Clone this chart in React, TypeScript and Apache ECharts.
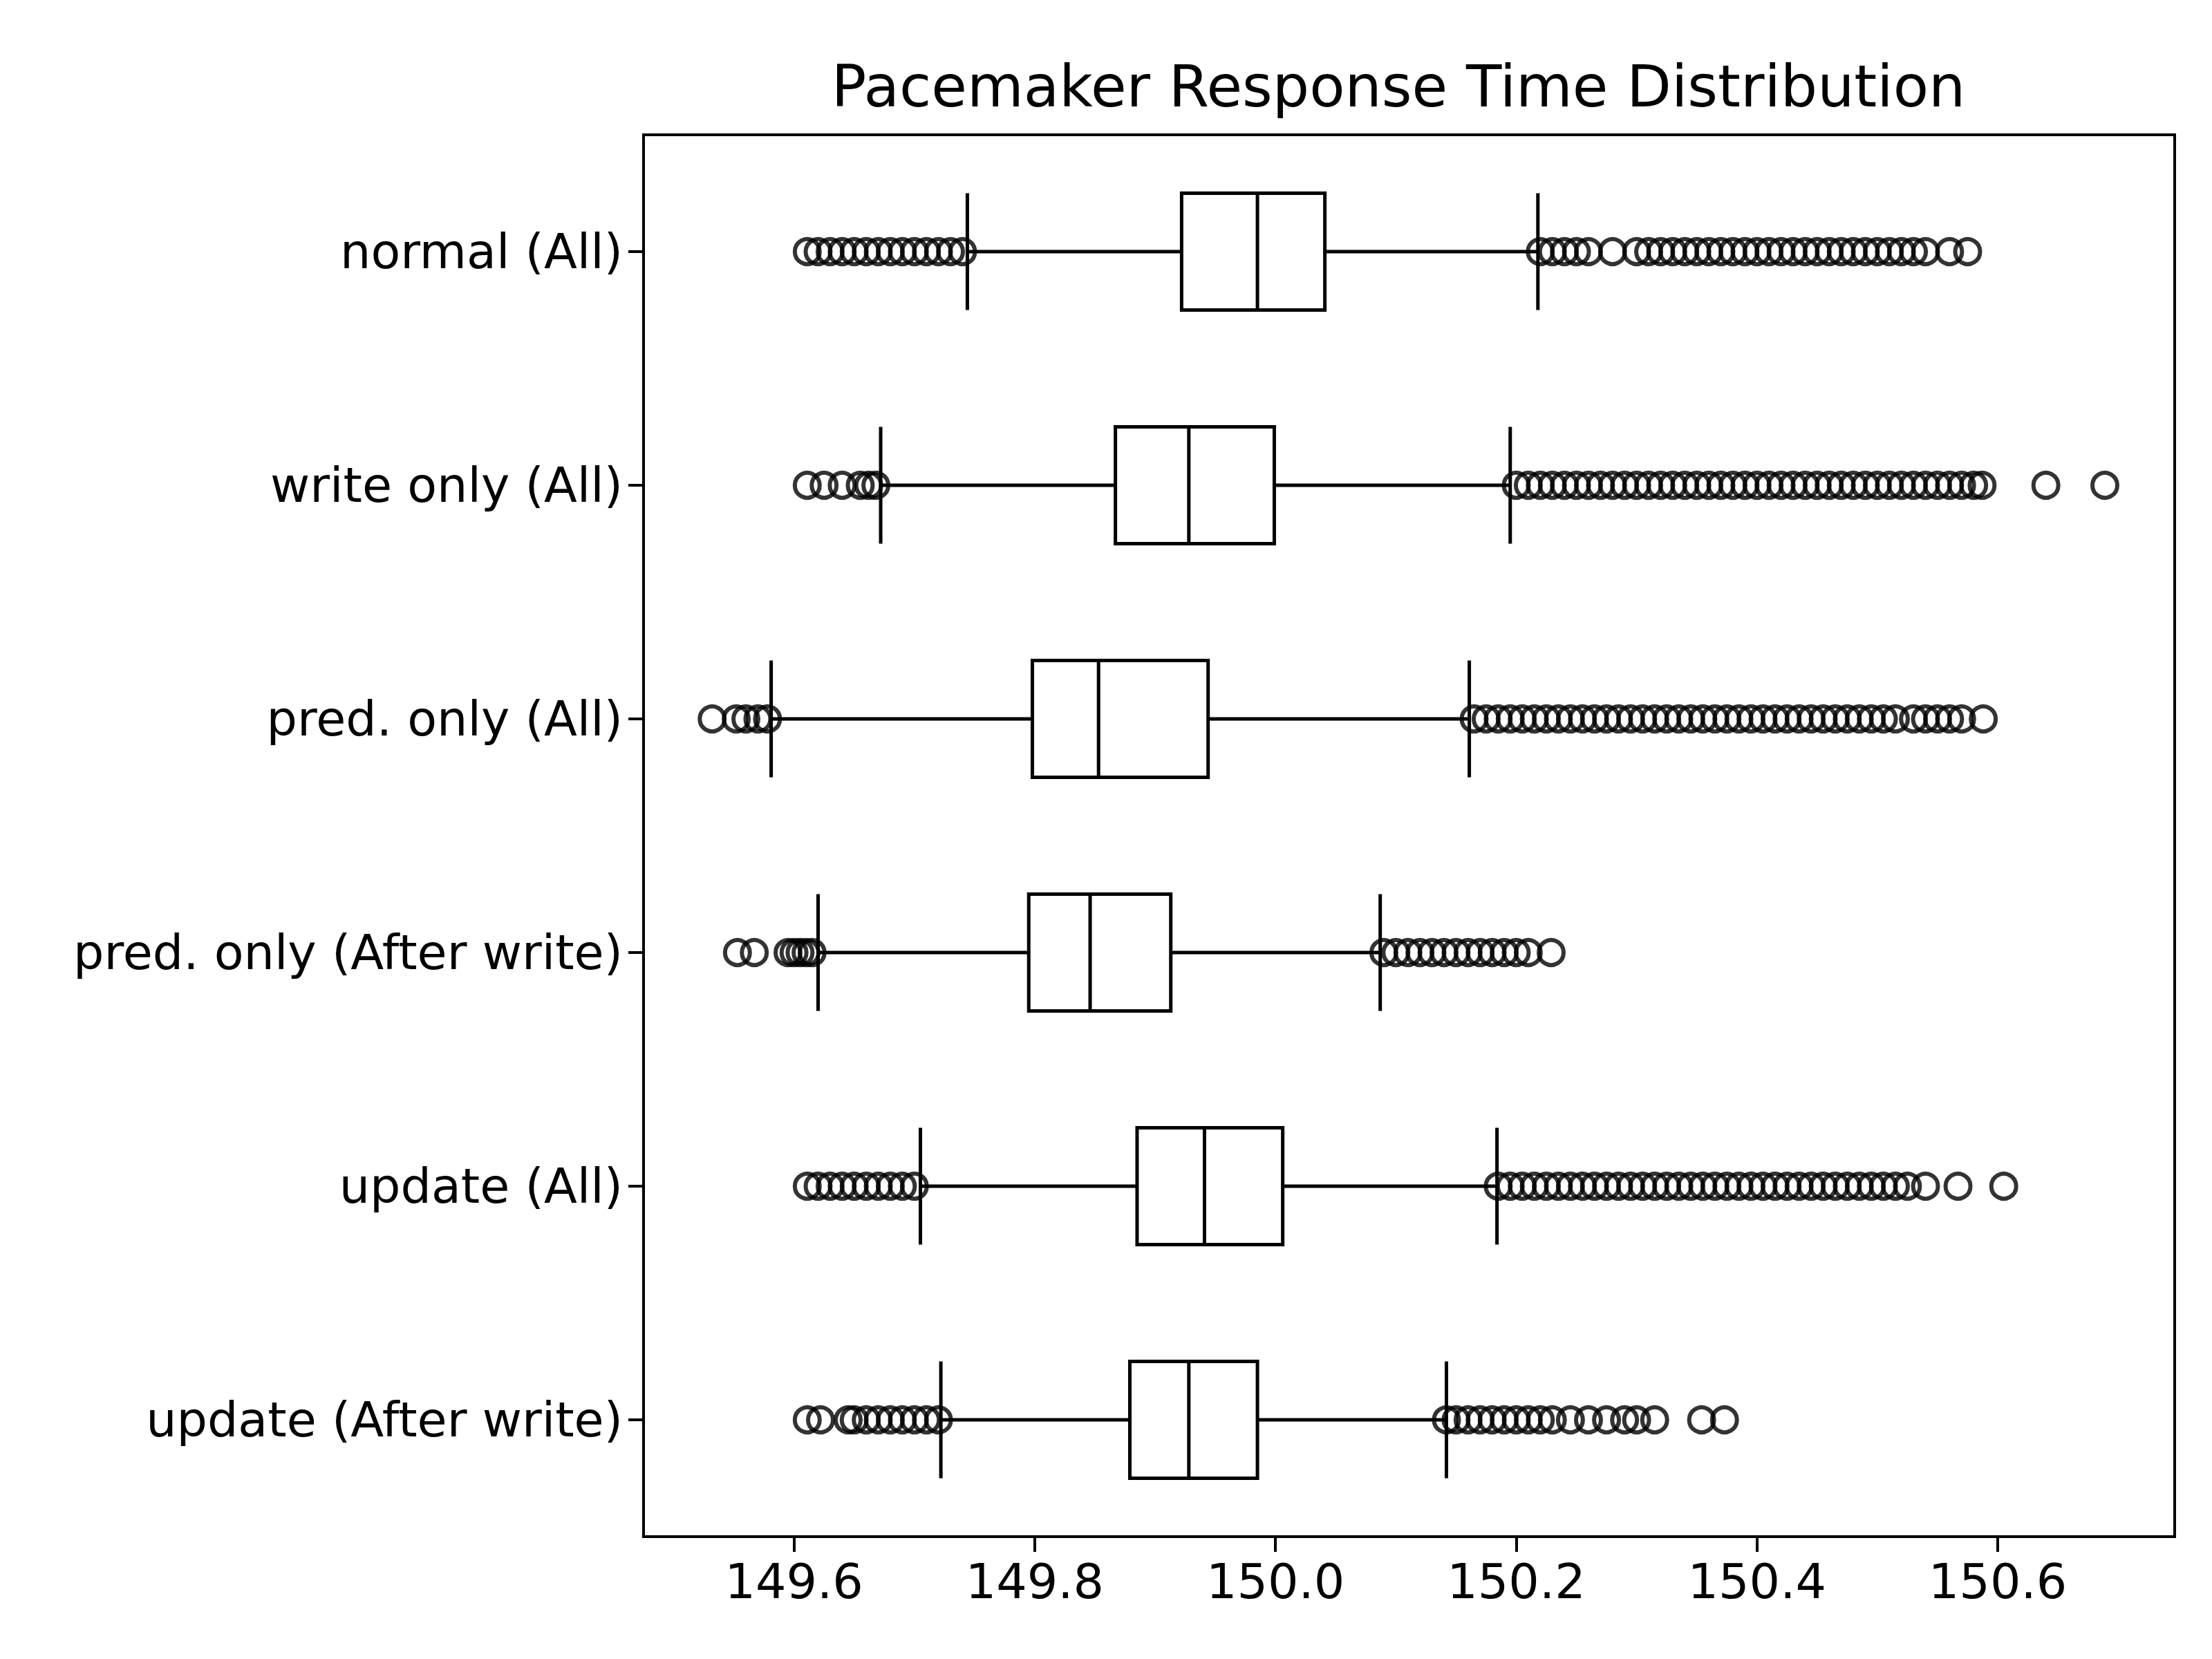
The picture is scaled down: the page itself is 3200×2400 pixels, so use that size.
import * as echarts from "echarts";
import React, { useEffect, useRef } from "react";

const categories = [
	"normal (All)",
	"write only (All)",
	"pred. only (All)",
	"pred. only (After write)",
	"update (All)",
	"update (After write)",
];

// [whisker low, Q1, median, Q3, whisker high]
const boxes = [
	[149.744, 149.922, 149.985, 150.041, 150.218],
	[149.672, 149.867, 149.928, 149.999, 150.195],
	[149.581, 149.798, 149.853, 149.944, 150.161],
	[149.62, 149.795, 149.846, 149.913, 150.087],
	[149.705, 149.885, 149.941, 150.006, 150.184],
	[149.722, 149.879, 149.928, 149.985, 150.142],
];

const outliersNormal = [
	149.611, 149.62, 149.63, 149.64, 149.65, 149.66, 149.67, 149.68, 149.69, 149.7, 149.71, 149.72, 149.73, 149.74,
	150.22, 150.23, 150.24, 150.25, 150.26, 150.28, 150.3, 150.31, 150.32, 150.33, 150.34, 150.35, 150.36, 150.37,
	150.38, 150.39, 150.4, 150.41, 150.42, 150.43, 150.44, 150.45, 150.46, 150.47, 150.48, 150.49, 150.5, 150.51,
	150.52, 150.53, 150.54, 150.56, 150.575,
];
const outliersWrite = [
	149.611, 149.625, 149.64, 149.655, 149.662, 149.668, 150.2, 150.21, 150.22, 150.23, 150.24, 150.25, 150.26,
	150.27, 150.28, 150.29, 150.3, 150.31, 150.32, 150.33, 150.34, 150.35, 150.36, 150.37, 150.38, 150.39, 150.4,
	150.41, 150.42, 150.43, 150.44, 150.45, 150.46, 150.47, 150.48, 150.49, 150.5, 150.51, 150.52, 150.53, 150.54,
	150.55, 150.56, 150.57, 150.58, 150.587, 150.64, 150.689,
];
const outliersPred = [
	149.532, 149.552, 149.56, 149.57, 149.578, 150.165, 150.175, 150.185, 150.195, 150.205, 150.215, 150.225,
	150.235, 150.245, 150.255, 150.265, 150.275, 150.285, 150.295, 150.305, 150.315, 150.325, 150.335, 150.345,
	150.355, 150.365, 150.375, 150.385, 150.395, 150.405, 150.415, 150.425, 150.435, 150.445, 150.455, 150.465,
	150.475, 150.485, 150.495, 150.505, 150.515, 150.53, 150.54, 150.55, 150.56, 150.57, 150.588,
];
const outliersPredAfter = [
	149.553, 149.567, 149.595, 149.6, 149.605, 149.61, 149.615, 150.09, 150.1, 150.11, 150.12, 150.13, 150.14,
	150.15, 150.16, 150.17, 150.18, 150.19, 150.2, 150.21, 150.229,
];
const outliersUpdate = [
	149.611, 149.62, 149.63, 149.64, 149.65, 149.66, 149.67, 149.68, 149.69, 149.7, 150.185, 150.195, 150.205,
	150.215, 150.225, 150.235, 150.245, 150.255, 150.265, 150.275, 150.285, 150.295, 150.305, 150.315, 150.325,
	150.335, 150.345, 150.355, 150.365, 150.375, 150.385, 150.395, 150.405, 150.415, 150.425, 150.435, 150.445,
	150.455, 150.465, 150.475, 150.485, 150.495, 150.505, 150.515, 150.525, 150.54, 150.567, 150.605,
];
const outliersUpdateAfter = [
	149.611, 149.622, 149.645, 149.65, 149.66, 149.67, 149.68, 149.69, 149.7, 149.71, 149.72, 150.142, 150.15,
	150.16, 150.17, 150.18, 150.19, 150.2, 150.21, 150.22, 150.23, 150.245, 150.26, 150.275, 150.29, 150.3, 150.315,
	150.354, 150.373,
];

const outliers = [
	outliersNormal,
	outliersWrite,
	outliersPred,
	outliersPredAfter,
	outliersUpdate,
	outliersUpdateAfter,
];

const xTicks = [149.6, 149.8, 150.0, 150.2, 150.4, 150.6];

export default function App() {
	const ref = useRef<HTMLDivElement>(null);

	useEffect(() => {
		const chart = echarts.init(ref.current, null, { renderer: "svg" });
		const font = "DejaVu Sans";
		chart.setOption({
			animation: false,
			backgroundColor: "#fff",
			textStyle: { fontFamily: font },
			title: {
				text: "Pacemaker Response Time Distribution",
				left: 2010,
				textAlign: "center",
				top: 70,
				textStyle: { fontFamily: font, fontSize: 84, fontWeight: "normal", color: "#000" },
			},
			grid: {
				left: 923,
				right: 62,
				top: 187,
				bottom: 185,
				show: true,
				borderColor: "#000",
				borderWidth: 4,
				backgroundColor: "transparent",
			},
			xAxis: {
				type: "value",
				min: 149.475,
				max: 150.747,
				splitLine: { show: false },
				axisLine: { show: false },
				axisTick: { show: true, length: 22, lineStyle: { color: "#000", width: 4 }, customValues: xTicks },
				axisLabel: {
					customValues: xTicks,
					fontSize: 70,
					color: "#000",
					margin: 30,
					fontFamily: font,
					formatter: (v: number) => v.toFixed(1),
				},
			},
			yAxis: {
				type: "category",
				data: categories,
				inverse: true,
				axisLine: { show: false },
				axisTick: { show: true, alignWithLabel: true, length: 22, lineStyle: { color: "#000", width: 4 } },
				axisLabel: { fontSize: 70, color: "#000", margin: 30, fontFamily: font },
			},
			series: [
				{
					type: "boxplot",
					data: boxes,
					boxWidth: ["50%", "50%"],
					itemStyle: { color: "#fff", borderColor: "#000", borderWidth: 5 },
				},
				{
					type: "scatter",
					data: outliers.flatMap((arr, i) => arr.map((v) => [v, i])),
					symbol: "circle",
					symbolSize: 36,
					itemStyle: { color: "transparent", borderColor: "#000", borderWidth: 6 },
					z: 3,
				},
			],
		});
		return () => chart.dispose();
	}, []);

	return <div ref={ref} style={{ width: 3200, height: 2400 }} />;
}
